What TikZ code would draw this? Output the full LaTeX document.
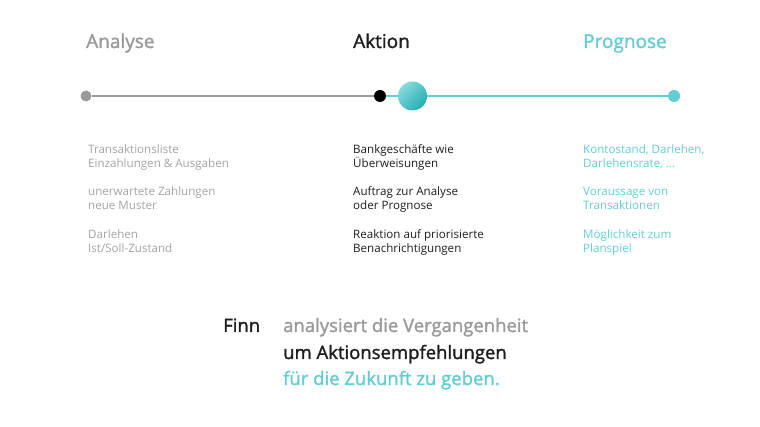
\documentclass[tikz,border=0pt]{standalone}
\usepackage{fontspec}
\setmainfont{Open Sans}
\newfontfamily\medfont[FakeBold=1.6]{Open Sans}
\usetikzlibrary{positioning}
\definecolor{pastgray}{HTML}{9A9A9A}
\definecolor{textgray}{HTML}{A3A3A3}
\definecolor{nowblack}{HTML}{1E1E1E}
\definecolor{futureteal}{HTML}{62CDD3}
\definecolor{balllight}{HTML}{86DADE}
\definecolor{balldark}{HTML}{25AEB5}

\begin{document}
\begin{tikzpicture}[x=1pt,y=-1pt,
		head/.style={anchor=base west,inner sep=0pt,font=\medfont\fontsize{19}{22}\selectfont},
		body/.style={anchor=base west,inner sep=0pt,align=left,font=\fontsize{11.6}{14}\selectfont},
		claim/.style={anchor=base west,inner sep=0pt,font=\medfont\fontsize{18.5}{22}\selectfont},
		dot/.style={circle,inner sep=0pt,minimum size=11pt}]
		\useasboundingbox (0,0) rectangle (760,427);
		% Headings
		\node[head,pastgray] (hana) at (86,48) {Analyse};
		\node[head,nowblack] (hakt) at (353,48) {Aktion};
		\node[head,futureteal] (hpro) at (583,48) {Prognose};
		% Timeline
		\node[dot,fill=pastgray] (ana) at (86,96) {};
		\node[dot,fill=black,minimum size=12pt] (akt) at (380,96) {};
		\node[circle,inner sep=0pt,minimum size=29pt,top color=balllight,bottom color=balldark,shading angle=45] (now) at (412.5,96) {};
		\node[dot,fill=futureteal,minimum size=12pt] (pro) at (674,96) {};
		\draw[pastgray,line width=1.1pt] (ana) -- (akt);
		\draw[futureteal,line width=1.1pt] (akt) -- (now);
		\draw[futureteal,line width=1.1pt] (now) -- (pro);
		% Columns (base is the last line)
		\node[body,textgray] (a1) at (88,168) {Transaktionsliste\\Einzahlungen \& Ausgaben};
		\node[body,textgray] (a2) at (88,210) {unerwartete Zahlungen\\neue Muster};
		\node[body,textgray] (a3) at (88,253) {Darlehen\\Ist/Soll-Zustand};
		\node[body,nowblack] (b1) at (353,168) {Bankgeschäfte wie\\Überweisungen};
		\node[body,nowblack] (b2) at (353,210) {Auftrag zur Analyse\\oder Prognose};
		\node[body,nowblack] (b3) at (353,253) {Reaktion auf priorisierte\\Benachrichtigungen};
		\node[body,futureteal] (c1) at (583,168) {Kontostand, Darlehen,\\Darlehensrate, \dots};
		\node[body,futureteal] (c2) at (583,210) {Voraussage von\\Transaktionen};
		\node[body,futureteal] (c3) at (583,253) {Möglichkeit zum\\Planspiel};
		% Claim
		\node[claim,nowblack] (finn) at (223,332) {Finn};
		\node[claim,pastgray] (l1) at (283,332) {analysiert die Vergangenheit};
		\node[claim,nowblack] (l2) at (283,359) {um Aktionsempfehlungen};
		\node[claim,futureteal] (l3) at (283,385) {für die Zukunft zu geben.};
	\end{tikzpicture}
\end{document}
